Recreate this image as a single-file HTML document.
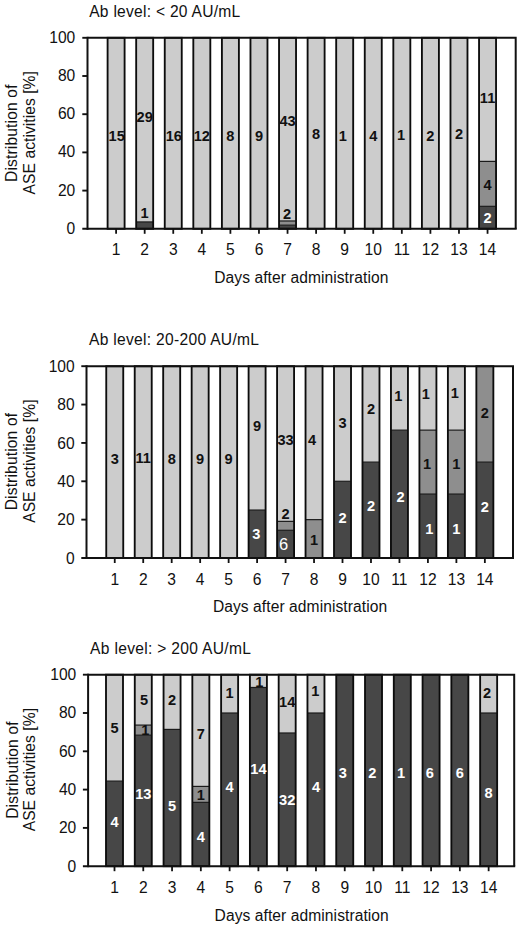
<!DOCTYPE html>
<html><head><meta charset="utf-8"><title>ASE activity distribution</title>
<style>
html,body{margin:0;padding:0;background:#fff;}
body{width:520px;height:928px;overflow:hidden;font-family:"Liberation Sans",sans-serif;}
svg{display:block;font-family:"Liberation Sans",sans-serif;}
.ax{font-size:15.6px;fill:#111;}
.tk{font-size:15.6px;fill:#111;}
.bl{font-size:14.6px;font-weight:bold;text-anchor:middle;}
.k{fill:#111;}
.w{fill:#fff;}
</style></head><body>
<svg width="520" height="928" viewBox="0 0 520 928">
<rect x="0" y="0" width="520" height="928" fill="#fff"/>

<g>
<text class="ax" x="89.2" y="16.9" textLength="151.0" lengthAdjust="spacing">Ab level: &lt; 20 AU/mL</text>
<rect x="107.60" y="37.80" width="17.00" height="191.00" fill="#cccccc"/>
<rect x="107.60" y="37.80" width="17.00" height="191.00" fill="none" stroke="#0c0c0c" stroke-width="1.85"/>
<rect x="136.18" y="221.92" width="17.00" height="6.88" fill="#474747"/>
<rect x="136.18" y="37.80" width="17.00" height="184.12" fill="#cccccc"/>
<path d="M136.18 221.92 H153.18" stroke="#1a1a1a" stroke-width="1.2"/>
<rect x="136.18" y="37.80" width="17.00" height="191.00" fill="none" stroke="#0c0c0c" stroke-width="1.85"/>
<rect x="164.75" y="37.80" width="17.00" height="191.00" fill="#cccccc"/>
<rect x="164.75" y="37.80" width="17.00" height="191.00" fill="none" stroke="#0c0c0c" stroke-width="1.85"/>
<rect x="193.32" y="37.80" width="17.00" height="191.00" fill="#cccccc"/>
<rect x="193.32" y="37.80" width="17.00" height="191.00" fill="none" stroke="#0c0c0c" stroke-width="1.85"/>
<rect x="221.90" y="37.80" width="17.00" height="191.00" fill="#cccccc"/>
<rect x="221.90" y="37.80" width="17.00" height="191.00" fill="none" stroke="#0c0c0c" stroke-width="1.85"/>
<rect x="250.47" y="37.80" width="17.00" height="191.00" fill="#cccccc"/>
<rect x="250.47" y="37.80" width="17.00" height="191.00" fill="none" stroke="#0c0c0c" stroke-width="1.85"/>
<rect x="279.04" y="225.17" width="17.00" height="3.63" fill="#474747"/>
<rect x="279.04" y="220.97" width="17.00" height="4.20" fill="#8e8e8e"/>
<rect x="279.04" y="37.80" width="17.00" height="183.17" fill="#cccccc"/>
<path d="M279.04 225.17 H296.04" stroke="#1a1a1a" stroke-width="1.2"/>
<path d="M279.04 220.97 H296.04" stroke="#1a1a1a" stroke-width="1.2"/>
<rect x="279.04" y="37.80" width="17.00" height="191.00" fill="none" stroke="#0c0c0c" stroke-width="1.85"/>
<rect x="307.61" y="37.80" width="17.00" height="191.00" fill="#cccccc"/>
<rect x="307.61" y="37.80" width="17.00" height="191.00" fill="none" stroke="#0c0c0c" stroke-width="1.85"/>
<rect x="336.19" y="37.80" width="17.00" height="191.00" fill="#cccccc"/>
<rect x="336.19" y="37.80" width="17.00" height="191.00" fill="none" stroke="#0c0c0c" stroke-width="1.85"/>
<rect x="364.76" y="37.80" width="17.00" height="191.00" fill="#cccccc"/>
<rect x="364.76" y="37.80" width="17.00" height="191.00" fill="none" stroke="#0c0c0c" stroke-width="1.85"/>
<rect x="393.33" y="37.80" width="17.00" height="191.00" fill="#cccccc"/>
<rect x="393.33" y="37.80" width="17.00" height="191.00" fill="none" stroke="#0c0c0c" stroke-width="1.85"/>
<rect x="421.91" y="37.80" width="17.00" height="191.00" fill="#cccccc"/>
<rect x="421.91" y="37.80" width="17.00" height="191.00" fill="none" stroke="#0c0c0c" stroke-width="1.85"/>
<rect x="450.48" y="37.80" width="17.00" height="191.00" fill="#cccccc"/>
<rect x="450.48" y="37.80" width="17.00" height="191.00" fill="none" stroke="#0c0c0c" stroke-width="1.85"/>
<rect x="479.05" y="206.33" width="17.00" height="22.47" fill="#474747"/>
<rect x="479.05" y="161.39" width="17.00" height="44.94" fill="#8e8e8e"/>
<rect x="479.05" y="37.80" width="17.00" height="123.59" fill="#cccccc"/>
<path d="M479.05 206.33 H496.05" stroke="#1a1a1a" stroke-width="1.2"/>
<path d="M479.05 161.39 H496.05" stroke="#1a1a1a" stroke-width="1.2"/>
<rect x="479.05" y="37.80" width="17.00" height="191.00" fill="none" stroke="#0c0c0c" stroke-width="1.85"/>
<path d="M87.50 37.80 H515.70 V228.80" fill="none" stroke="#111" stroke-width="2"/>
<path d="M87.50 36.80 V229.80" fill="none" stroke="#111" stroke-width="2"/>
<path d="M82.30 228.80 H516.70" fill="none" stroke="#111" stroke-width="2"/>
<text class="tk" x="75.3" y="234" text-anchor="end">0</text>
<path d="M82.30 190.60 H87.50" stroke="#111" stroke-width="1.9"/>
<text class="tk" x="75.3" y="196" text-anchor="end">20</text>
<path d="M82.30 152.40 H87.50" stroke="#111" stroke-width="1.9"/>
<text class="tk" x="75.3" y="157" text-anchor="end">40</text>
<path d="M82.30 114.20 H87.50" stroke="#111" stroke-width="1.9"/>
<text class="tk" x="75.3" y="119" text-anchor="end">60</text>
<path d="M82.30 76.00 H87.50" stroke="#111" stroke-width="1.9"/>
<text class="tk" x="75.3" y="81" text-anchor="end">80</text>
<path d="M82.30 37.80 H87.50" stroke="#111" stroke-width="1.9"/>
<text class="tk" x="75.3" y="43" text-anchor="end">100</text>
<path d="M116.10 228.80 V233.80" stroke="#111" stroke-width="1.8"/>
<text class="tk" x="116.10" y="255.2" text-anchor="middle">1</text>
<path d="M144.68 228.80 V233.80" stroke="#111" stroke-width="1.8"/>
<text class="tk" x="144.68" y="255.2" text-anchor="middle">2</text>
<path d="M173.25 228.80 V233.80" stroke="#111" stroke-width="1.8"/>
<text class="tk" x="173.25" y="255.2" text-anchor="middle">3</text>
<path d="M201.82 228.80 V233.80" stroke="#111" stroke-width="1.8"/>
<text class="tk" x="201.82" y="255.2" text-anchor="middle">4</text>
<path d="M230.40 228.80 V233.80" stroke="#111" stroke-width="1.8"/>
<text class="tk" x="230.40" y="255.2" text-anchor="middle">5</text>
<path d="M258.97 228.80 V233.80" stroke="#111" stroke-width="1.8"/>
<text class="tk" x="258.97" y="255.2" text-anchor="middle">6</text>
<path d="M287.54 228.80 V233.80" stroke="#111" stroke-width="1.8"/>
<text class="tk" x="287.54" y="255.2" text-anchor="middle">7</text>
<path d="M316.11 228.80 V233.80" stroke="#111" stroke-width="1.8"/>
<text class="tk" x="316.11" y="255.2" text-anchor="middle">8</text>
<path d="M344.69 228.80 V233.80" stroke="#111" stroke-width="1.8"/>
<text class="tk" x="344.69" y="255.2" text-anchor="middle">9</text>
<path d="M373.26 228.80 V233.80" stroke="#111" stroke-width="1.8"/>
<text class="tk" x="373.26" y="255.2" text-anchor="middle">10</text>
<path d="M401.83 228.80 V233.80" stroke="#111" stroke-width="1.8"/>
<text class="tk" x="401.83" y="255.2" text-anchor="middle">11</text>
<path d="M430.41 228.80 V233.80" stroke="#111" stroke-width="1.8"/>
<text class="tk" x="430.41" y="255.2" text-anchor="middle">12</text>
<path d="M458.98 228.80 V233.80" stroke="#111" stroke-width="1.8"/>
<text class="tk" x="458.98" y="255.2" text-anchor="middle">13</text>
<path d="M487.55 228.80 V233.80" stroke="#111" stroke-width="1.8"/>
<text class="tk" x="487.55" y="255.2" text-anchor="middle">14</text>
<text class="ax" x="214.2" y="283.3" textLength="174.2" lengthAdjust="spacing">Days after administration</text>
<text class="ax" transform="translate(17.3 181.9) rotate(-90)" textLength="97.4" lengthAdjust="spacing">Distribution of</text>
<text class="ax" transform="translate(35.0 194.4) rotate(-90)" textLength="123.3" lengthAdjust="spacing">ASE activities [%]</text>
<text class="bl k" x="116.70" y="140.6">15</text>
<text class="bl k" x="144.68" y="122.2">29</text>
<text class="bl k" x="144.68" y="218.2">1</text>
<text class="bl k" x="173.85" y="140.6">16</text>
<text class="bl k" x="201.82" y="140.6">12</text>
<text class="bl k" x="230.40" y="140.6">8</text>
<text class="bl k" x="258.97" y="140.6">9</text>
<text class="bl k" x="287.54" y="125.6">43</text>
<text class="bl k" x="286.94" y="218.9">2</text>
<text class="bl k" x="316.11" y="139.1">8</text>
<text class="bl k" x="342.89" y="140.6">1</text>
<text class="bl k" x="373.26" y="140.6">4</text>
<text class="bl k" x="401.03" y="140.4">1</text>
<text class="bl k" x="430.41" y="140.6">2</text>
<text class="bl k" x="458.98" y="139.4">2</text>
<text class="bl k" x="487.55" y="102.9">11</text>
<text class="bl k" x="487.55" y="189.9">4</text>
<text class="bl w" x="487.55" y="222.9">2</text>
</g>
<g>
<text class="ax" x="89.0" y="345.3" textLength="170.0" lengthAdjust="spacing">Ab level: 20-200 AU/mL</text>
<rect x="106.25" y="366.20" width="17.00" height="191.80" fill="#cccccc"/>
<rect x="106.25" y="366.20" width="17.00" height="191.80" fill="none" stroke="#0c0c0c" stroke-width="1.85"/>
<rect x="134.72" y="366.20" width="17.00" height="191.80" fill="#cccccc"/>
<rect x="134.72" y="366.20" width="17.00" height="191.80" fill="none" stroke="#0c0c0c" stroke-width="1.85"/>
<rect x="163.19" y="366.20" width="17.00" height="191.80" fill="#cccccc"/>
<rect x="163.19" y="366.20" width="17.00" height="191.80" fill="none" stroke="#0c0c0c" stroke-width="1.85"/>
<rect x="191.66" y="366.20" width="17.00" height="191.80" fill="#cccccc"/>
<rect x="191.66" y="366.20" width="17.00" height="191.80" fill="none" stroke="#0c0c0c" stroke-width="1.85"/>
<rect x="220.13" y="366.20" width="17.00" height="191.80" fill="#cccccc"/>
<rect x="220.13" y="366.20" width="17.00" height="191.80" fill="none" stroke="#0c0c0c" stroke-width="1.85"/>
<rect x="248.60" y="510.05" width="17.00" height="47.95" fill="#474747"/>
<rect x="248.60" y="366.20" width="17.00" height="143.85" fill="#cccccc"/>
<path d="M248.60 510.05 H265.60" stroke="#1a1a1a" stroke-width="1.2"/>
<rect x="248.60" y="366.20" width="17.00" height="191.80" fill="none" stroke="#0c0c0c" stroke-width="1.85"/>
<rect x="277.07" y="530.28" width="17.00" height="27.72" fill="#474747"/>
<rect x="277.07" y="521.37" width="17.00" height="8.92" fill="#8e8e8e"/>
<rect x="277.07" y="366.20" width="17.00" height="155.17" fill="#cccccc"/>
<path d="M277.07 530.28 H294.07" stroke="#1a1a1a" stroke-width="1.2"/>
<path d="M277.07 521.37 H294.07" stroke="#1a1a1a" stroke-width="1.2"/>
<rect x="277.07" y="366.20" width="17.00" height="191.80" fill="none" stroke="#0c0c0c" stroke-width="1.85"/>
<rect x="305.54" y="519.64" width="17.00" height="38.36" fill="#8e8e8e"/>
<rect x="305.54" y="366.20" width="17.00" height="153.44" fill="#cccccc"/>
<path d="M305.54 519.64 H322.54" stroke="#1a1a1a" stroke-width="1.2"/>
<rect x="305.54" y="366.20" width="17.00" height="191.80" fill="none" stroke="#0c0c0c" stroke-width="1.85"/>
<rect x="334.01" y="481.28" width="17.00" height="76.72" fill="#474747"/>
<rect x="334.01" y="366.20" width="17.00" height="115.08" fill="#cccccc"/>
<path d="M334.01 481.28 H351.01" stroke="#1a1a1a" stroke-width="1.2"/>
<rect x="334.01" y="366.20" width="17.00" height="191.80" fill="none" stroke="#0c0c0c" stroke-width="1.85"/>
<rect x="362.48" y="462.10" width="17.00" height="95.90" fill="#474747"/>
<rect x="362.48" y="366.20" width="17.00" height="95.90" fill="#cccccc"/>
<path d="M362.48 462.10 H379.48" stroke="#1a1a1a" stroke-width="1.2"/>
<rect x="362.48" y="366.20" width="17.00" height="191.80" fill="none" stroke="#0c0c0c" stroke-width="1.85"/>
<rect x="390.95" y="430.13" width="17.00" height="127.87" fill="#474747"/>
<rect x="390.95" y="366.20" width="17.00" height="63.93" fill="#cccccc"/>
<path d="M390.95 430.13 H407.95" stroke="#1a1a1a" stroke-width="1.2"/>
<rect x="390.95" y="366.20" width="17.00" height="191.80" fill="none" stroke="#0c0c0c" stroke-width="1.85"/>
<rect x="419.42" y="494.07" width="17.00" height="63.93" fill="#474747"/>
<rect x="419.42" y="430.13" width="17.00" height="63.93" fill="#8e8e8e"/>
<rect x="419.42" y="366.20" width="17.00" height="63.93" fill="#cccccc"/>
<path d="M419.42 494.07 H436.42" stroke="#1a1a1a" stroke-width="1.2"/>
<path d="M419.42 430.13 H436.42" stroke="#1a1a1a" stroke-width="1.2"/>
<rect x="419.42" y="366.20" width="17.00" height="191.80" fill="none" stroke="#0c0c0c" stroke-width="1.85"/>
<rect x="447.89" y="494.07" width="17.00" height="63.93" fill="#474747"/>
<rect x="447.89" y="430.13" width="17.00" height="63.93" fill="#8e8e8e"/>
<rect x="447.89" y="366.20" width="17.00" height="63.93" fill="#cccccc"/>
<path d="M447.89 494.07 H464.89" stroke="#1a1a1a" stroke-width="1.2"/>
<path d="M447.89 430.13 H464.89" stroke="#1a1a1a" stroke-width="1.2"/>
<rect x="447.89" y="366.20" width="17.00" height="191.80" fill="none" stroke="#0c0c0c" stroke-width="1.85"/>
<rect x="476.36" y="462.10" width="17.00" height="95.90" fill="#474747"/>
<rect x="476.36" y="366.20" width="17.00" height="95.90" fill="#8e8e8e"/>
<path d="M476.36 462.10 H493.36" stroke="#1a1a1a" stroke-width="1.2"/>
<rect x="476.36" y="366.20" width="17.00" height="191.80" fill="none" stroke="#0c0c0c" stroke-width="1.85"/>
<path d="M86.50 366.20 H513.00 V558.00" fill="none" stroke="#111" stroke-width="2"/>
<path d="M86.50 365.20 V559.00" fill="none" stroke="#111" stroke-width="2"/>
<path d="M81.30 558.00 H514.00" fill="none" stroke="#111" stroke-width="2"/>
<text class="tk" x="74.7" y="564" text-anchor="end">0</text>
<path d="M81.30 519.64 H86.50" stroke="#111" stroke-width="1.9"/>
<text class="tk" x="74.7" y="525" text-anchor="end">20</text>
<path d="M81.30 481.28 H86.50" stroke="#111" stroke-width="1.9"/>
<text class="tk" x="74.7" y="487" text-anchor="end">40</text>
<path d="M81.30 442.92 H86.50" stroke="#111" stroke-width="1.9"/>
<text class="tk" x="74.7" y="449" text-anchor="end">60</text>
<path d="M81.30 404.56 H86.50" stroke="#111" stroke-width="1.9"/>
<text class="tk" x="74.7" y="410" text-anchor="end">80</text>
<path d="M81.30 366.20 H86.50" stroke="#111" stroke-width="1.9"/>
<text class="tk" x="74.7" y="372" text-anchor="end">100</text>
<path d="M114.75 558.00 V563.00" stroke="#111" stroke-width="1.8"/>
<text class="tk" x="114.75" y="585.0" text-anchor="middle">1</text>
<path d="M143.22 558.00 V563.00" stroke="#111" stroke-width="1.8"/>
<text class="tk" x="143.22" y="585.0" text-anchor="middle">2</text>
<path d="M171.69 558.00 V563.00" stroke="#111" stroke-width="1.8"/>
<text class="tk" x="171.69" y="585.0" text-anchor="middle">3</text>
<path d="M200.16 558.00 V563.00" stroke="#111" stroke-width="1.8"/>
<text class="tk" x="200.16" y="585.0" text-anchor="middle">4</text>
<path d="M228.63 558.00 V563.00" stroke="#111" stroke-width="1.8"/>
<text class="tk" x="228.63" y="585.0" text-anchor="middle">5</text>
<path d="M257.10 558.00 V563.00" stroke="#111" stroke-width="1.8"/>
<text class="tk" x="257.10" y="585.0" text-anchor="middle">6</text>
<path d="M285.57 558.00 V563.00" stroke="#111" stroke-width="1.8"/>
<text class="tk" x="285.57" y="585.0" text-anchor="middle">7</text>
<path d="M314.04 558.00 V563.00" stroke="#111" stroke-width="1.8"/>
<text class="tk" x="314.04" y="585.0" text-anchor="middle">8</text>
<path d="M342.51 558.00 V563.00" stroke="#111" stroke-width="1.8"/>
<text class="tk" x="342.51" y="585.0" text-anchor="middle">9</text>
<path d="M370.98 558.00 V563.00" stroke="#111" stroke-width="1.8"/>
<text class="tk" x="370.98" y="585.0" text-anchor="middle">10</text>
<path d="M399.45 558.00 V563.00" stroke="#111" stroke-width="1.8"/>
<text class="tk" x="399.45" y="585.0" text-anchor="middle">11</text>
<path d="M427.92 558.00 V563.00" stroke="#111" stroke-width="1.8"/>
<text class="tk" x="427.92" y="585.0" text-anchor="middle">12</text>
<path d="M456.39 558.00 V563.00" stroke="#111" stroke-width="1.8"/>
<text class="tk" x="456.39" y="585.0" text-anchor="middle">13</text>
<path d="M484.86 558.00 V563.00" stroke="#111" stroke-width="1.8"/>
<text class="tk" x="484.86" y="585.0" text-anchor="middle">14</text>
<text class="ax" x="212.9" y="612.1" textLength="174.2" lengthAdjust="spacing">Days after administration</text>
<text class="ax" transform="translate(17.3 510.3) rotate(-90)" textLength="97.4" lengthAdjust="spacing">Distribution of</text>
<text class="ax" transform="translate(35.0 522.8) rotate(-90)" textLength="123.3" lengthAdjust="spacing">ASE activities [%]</text>
<text class="bl k" x="114.75" y="463.7">3</text>
<text class="bl k" x="143.22" y="463.3">11</text>
<text class="bl k" x="171.69" y="464.2">8</text>
<text class="bl k" x="200.16" y="464.2">9</text>
<text class="bl k" x="228.63" y="464.2">9</text>
<text class="bl k" x="257.10" y="431.1">9</text>
<text class="bl w" x="256.40" y="538.9">3</text>
<text class="bl k" x="285.57" y="444.6">33</text>
<text class="bl k" x="285.57" y="518.9">2</text>
<text x="283.57" y="549.8" text-anchor="middle" fill="#fff" font-size="16.5">6</text>
<text class="bl k" x="312.04" y="444.5">4</text>
<text class="bl k" x="314.04" y="544.6">1</text>
<text class="bl k" x="342.51" y="428.2">3</text>
<text class="bl w" x="342.51" y="523.4">2</text>
<text class="bl k" x="370.98" y="413.9">2</text>
<text class="bl w" x="370.98" y="511.4">2</text>
<text class="bl k" x="398.25" y="400.9">1</text>
<text class="bl w" x="400.45" y="501.9">2</text>
<text class="bl k" x="425.92" y="398.9">1</text>
<text class="bl k" x="427.12" y="468.5">1</text>
<text class="bl w" x="429.42" y="533.9">1</text>
<text class="bl k" x="454.69" y="397.7">1</text>
<text class="bl k" x="456.39" y="469.3">1</text>
<text class="bl w" x="456.39" y="533.9">1</text>
<text class="bl k" x="484.86" y="417.7">2</text>
<text class="bl w" x="484.86" y="511.9">2</text>
</g>
<g>
<text class="ax" x="90.1" y="653.8" textLength="160.8" lengthAdjust="spacing">Ab level: &gt; 200 AU/mL</text>
<rect x="106.00" y="781.09" width="17.00" height="85.11" fill="#474747"/>
<rect x="106.00" y="674.70" width="17.00" height="106.39" fill="#cccccc"/>
<path d="M106.00 781.09 H123.00" stroke="#1a1a1a" stroke-width="1.2"/>
<rect x="106.00" y="674.70" width="17.00" height="191.50" fill="none" stroke="#0c0c0c" stroke-width="1.85"/>
<rect x="134.78" y="735.17" width="17.00" height="131.03" fill="#474747"/>
<rect x="134.78" y="725.09" width="17.00" height="10.08" fill="#8e8e8e"/>
<rect x="134.78" y="674.70" width="17.00" height="50.39" fill="#cccccc"/>
<path d="M134.78 735.17 H151.78" stroke="#1a1a1a" stroke-width="1.2"/>
<path d="M134.78 725.09 H151.78" stroke="#1a1a1a" stroke-width="1.2"/>
<rect x="134.78" y="674.70" width="17.00" height="191.50" fill="none" stroke="#0c0c0c" stroke-width="1.85"/>
<rect x="163.56" y="729.41" width="17.00" height="136.79" fill="#474747"/>
<rect x="163.56" y="674.70" width="17.00" height="54.71" fill="#cccccc"/>
<path d="M163.56 729.41 H180.56" stroke="#1a1a1a" stroke-width="1.2"/>
<rect x="163.56" y="674.70" width="17.00" height="191.50" fill="none" stroke="#0c0c0c" stroke-width="1.85"/>
<rect x="192.34" y="802.37" width="17.00" height="63.83" fill="#474747"/>
<rect x="192.34" y="786.41" width="17.00" height="15.96" fill="#8e8e8e"/>
<rect x="192.34" y="674.70" width="17.00" height="111.71" fill="#cccccc"/>
<path d="M192.34 802.37 H209.34" stroke="#1a1a1a" stroke-width="1.2"/>
<path d="M192.34 786.41 H209.34" stroke="#1a1a1a" stroke-width="1.2"/>
<rect x="192.34" y="674.70" width="17.00" height="191.50" fill="none" stroke="#0c0c0c" stroke-width="1.85"/>
<rect x="221.12" y="713.00" width="17.00" height="153.20" fill="#474747"/>
<rect x="221.12" y="674.70" width="17.00" height="38.30" fill="#cccccc"/>
<path d="M221.12 713.00 H238.12" stroke="#1a1a1a" stroke-width="1.2"/>
<rect x="221.12" y="674.70" width="17.00" height="191.50" fill="none" stroke="#0c0c0c" stroke-width="1.85"/>
<rect x="249.90" y="687.47" width="17.00" height="178.73" fill="#474747"/>
<rect x="249.90" y="674.70" width="17.00" height="12.77" fill="#cccccc"/>
<path d="M249.90 687.47 H266.90" stroke="#1a1a1a" stroke-width="1.2"/>
<rect x="249.90" y="674.70" width="17.00" height="191.50" fill="none" stroke="#0c0c0c" stroke-width="1.85"/>
<rect x="278.68" y="732.98" width="17.00" height="133.22" fill="#474747"/>
<rect x="278.68" y="674.70" width="17.00" height="58.28" fill="#cccccc"/>
<path d="M278.68 732.98 H295.68" stroke="#1a1a1a" stroke-width="1.2"/>
<rect x="278.68" y="674.70" width="17.00" height="191.50" fill="none" stroke="#0c0c0c" stroke-width="1.85"/>
<rect x="307.46" y="713.00" width="17.00" height="153.20" fill="#474747"/>
<rect x="307.46" y="674.70" width="17.00" height="38.30" fill="#cccccc"/>
<path d="M307.46 713.00 H324.46" stroke="#1a1a1a" stroke-width="1.2"/>
<rect x="307.46" y="674.70" width="17.00" height="191.50" fill="none" stroke="#0c0c0c" stroke-width="1.85"/>
<rect x="336.24" y="674.70" width="17.00" height="191.50" fill="#474747"/>
<rect x="336.24" y="674.70" width="17.00" height="191.50" fill="none" stroke="#0c0c0c" stroke-width="1.85"/>
<rect x="365.02" y="674.70" width="17.00" height="191.50" fill="#474747"/>
<rect x="365.02" y="674.70" width="17.00" height="191.50" fill="none" stroke="#0c0c0c" stroke-width="1.85"/>
<rect x="393.80" y="674.70" width="17.00" height="191.50" fill="#474747"/>
<rect x="393.80" y="674.70" width="17.00" height="191.50" fill="none" stroke="#0c0c0c" stroke-width="1.85"/>
<rect x="422.58" y="674.70" width="17.00" height="191.50" fill="#474747"/>
<rect x="422.58" y="674.70" width="17.00" height="191.50" fill="none" stroke="#0c0c0c" stroke-width="1.85"/>
<rect x="451.36" y="674.70" width="17.00" height="191.50" fill="#474747"/>
<rect x="451.36" y="674.70" width="17.00" height="191.50" fill="none" stroke="#0c0c0c" stroke-width="1.85"/>
<rect x="480.14" y="713.00" width="17.00" height="153.20" fill="#474747"/>
<rect x="480.14" y="674.70" width="17.00" height="38.30" fill="#cccccc"/>
<path d="M480.14 713.00 H497.14" stroke="#1a1a1a" stroke-width="1.2"/>
<rect x="480.14" y="674.70" width="17.00" height="191.50" fill="none" stroke="#0c0c0c" stroke-width="1.85"/>
<path d="M88.10 674.70 H514.20 V866.20" fill="none" stroke="#111" stroke-width="2"/>
<path d="M88.10 673.70 V867.20" fill="none" stroke="#111" stroke-width="2"/>
<path d="M82.90 866.20 H515.20" fill="none" stroke="#111" stroke-width="2"/>
<text class="tk" x="76.3" y="872" text-anchor="end">0</text>
<path d="M82.90 827.90 H88.10" stroke="#111" stroke-width="1.9"/>
<text class="tk" x="76.3" y="833" text-anchor="end">20</text>
<path d="M82.90 789.60 H88.10" stroke="#111" stroke-width="1.9"/>
<text class="tk" x="76.3" y="795" text-anchor="end">40</text>
<path d="M82.90 751.30 H88.10" stroke="#111" stroke-width="1.9"/>
<text class="tk" x="76.3" y="757" text-anchor="end">60</text>
<path d="M82.90 713.00 H88.10" stroke="#111" stroke-width="1.9"/>
<text class="tk" x="76.3" y="718" text-anchor="end">80</text>
<path d="M82.90 674.70 H88.10" stroke="#111" stroke-width="1.9"/>
<text class="tk" x="76.3" y="680" text-anchor="end">100</text>
<path d="M114.50 866.20 V871.20" stroke="#111" stroke-width="1.8"/>
<text class="tk" x="114.50" y="892.9" text-anchor="middle">1</text>
<path d="M143.28 866.20 V871.20" stroke="#111" stroke-width="1.8"/>
<text class="tk" x="143.28" y="892.9" text-anchor="middle">2</text>
<path d="M172.06 866.20 V871.20" stroke="#111" stroke-width="1.8"/>
<text class="tk" x="172.06" y="892.9" text-anchor="middle">3</text>
<path d="M200.84 866.20 V871.20" stroke="#111" stroke-width="1.8"/>
<text class="tk" x="200.84" y="892.9" text-anchor="middle">4</text>
<path d="M229.62 866.20 V871.20" stroke="#111" stroke-width="1.8"/>
<text class="tk" x="229.62" y="892.9" text-anchor="middle">5</text>
<path d="M258.40 866.20 V871.20" stroke="#111" stroke-width="1.8"/>
<text class="tk" x="258.40" y="892.9" text-anchor="middle">6</text>
<path d="M287.18 866.20 V871.20" stroke="#111" stroke-width="1.8"/>
<text class="tk" x="287.18" y="892.9" text-anchor="middle">7</text>
<path d="M315.96 866.20 V871.20" stroke="#111" stroke-width="1.8"/>
<text class="tk" x="315.96" y="892.9" text-anchor="middle">8</text>
<path d="M344.74 866.20 V871.20" stroke="#111" stroke-width="1.8"/>
<text class="tk" x="344.74" y="892.9" text-anchor="middle">9</text>
<path d="M373.52 866.20 V871.20" stroke="#111" stroke-width="1.8"/>
<text class="tk" x="373.52" y="892.9" text-anchor="middle">10</text>
<path d="M402.30 866.20 V871.20" stroke="#111" stroke-width="1.8"/>
<text class="tk" x="402.30" y="892.9" text-anchor="middle">11</text>
<path d="M431.08 866.20 V871.20" stroke="#111" stroke-width="1.8"/>
<text class="tk" x="431.08" y="892.9" text-anchor="middle">12</text>
<path d="M459.86 866.20 V871.20" stroke="#111" stroke-width="1.8"/>
<text class="tk" x="459.86" y="892.9" text-anchor="middle">13</text>
<path d="M488.64 866.20 V871.20" stroke="#111" stroke-width="1.8"/>
<text class="tk" x="488.64" y="892.9" text-anchor="middle">14</text>
<text class="ax" x="214.6" y="920.7" textLength="174.2" lengthAdjust="spacing">Days after administration</text>
<text class="ax" transform="translate(17.8 818.8) rotate(-90)" textLength="97.4" lengthAdjust="spacing">Distribution of</text>
<text class="ax" transform="translate(35.0 831.3) rotate(-90)" textLength="123.3" lengthAdjust="spacing">ASE activities [%]</text>
<text class="bl k" x="114.50" y="732.7">5</text>
<text class="bl w" x="114.50" y="826.6">4</text>
<text class="bl k" x="144.08" y="705.4">5</text>
<text class="bl k" x="145.28" y="735.3">1</text>
<text class="bl w" x="143.28" y="798.6">13</text>
<text class="bl k" x="172.06" y="705.4">2</text>
<text class="bl w" x="172.06" y="810.9">5</text>
<text class="bl k" x="200.84" y="738.7">7</text>
<text class="bl k" x="200.84" y="799.5">1</text>
<text class="bl w" x="200.84" y="841.6">4</text>
<text class="bl k" x="229.62" y="697.9">1</text>
<text class="bl w" x="229.62" y="791.5">4</text>
<text class="bl k" x="259.20" y="686.5">1</text>
<text class="bl w" x="258.40" y="773.9">14</text>
<text class="bl k" x="287.18" y="707.4">14</text>
<text class="bl w" x="287.18" y="804.6">32</text>
<text class="bl k" x="315.36" y="696.4">1</text>
<text class="bl w" x="315.96" y="791.9">4</text>
<text class="bl w" x="342.74" y="777.9">3</text>
<text class="bl w" x="372.22" y="777.9">2</text>
<text class="bl w" x="401.00" y="777.9">1</text>
<text class="bl w" x="429.78" y="777.9">6</text>
<text class="bl w" x="459.86" y="777.9">6</text>
<text class="bl k" x="486.94" y="698.4">2</text>
<text class="bl w" x="488.64" y="797.9">8</text>
</g>
</svg>
</body></html>
